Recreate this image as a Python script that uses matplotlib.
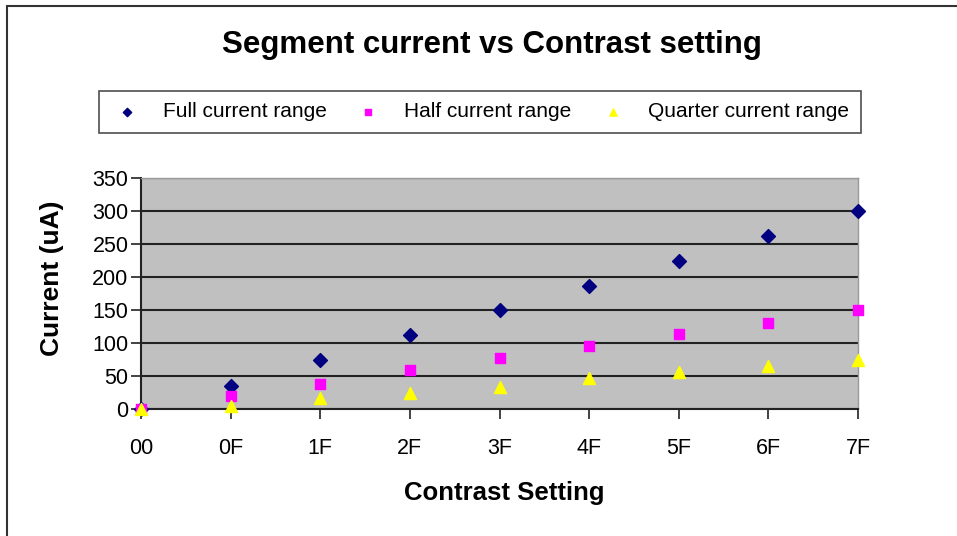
import matplotlib
matplotlib.use("Agg")
import matplotlib.pyplot as plt
from matplotlib.patches import Rectangle

# contrast settings (hex) and segment currents in uA
settings = ["00", "0F", "1F", "2F", "3F", "4F", "5F", "6F", "7F"]
full_range = [0, 35, 75, 112, 150, 187, 225, 262, 300]
half_range = [0, 19, 38, 59, 77, 95, 113, 131, 150]
quarter_range = [0, 5, 16, 25, 34, 47, 56, 65, 74]
y_ticks = [0, 50, 100, 150, 200, 250, 300, 350]

plt.rcParams['font.family'] = ['Liberation Sans', 'DejaVu Sans']

fig = plt.figure(figsize=(9.57, 5.36), dpi=100)
fig.patches.append(Rectangle((7 / 957, -0.1), 1.2, 1.1 - 6 / 536,
                             transform=fig.transFigure, fill=False,
                             edgecolor='#333333', linewidth=1.5))

ax = fig.add_axes([141 / 957, 127 / 536, 717 / 957, 231 / 536])
ax.set_facecolor('#c0c0c0')

x = list(range(len(settings)))
ax.scatter(x, full_range, marker='D', s=50, color='#000080', zorder=3,
           label='Full current range', clip_on=False)
ax.scatter(x, half_range, marker='s', s=55, color='#ff00ff', zorder=3,
           label='Half current range', clip_on=False)
ax.scatter(x, quarter_range, marker='^', s=75, color='#ffff00', zorder=3,
           label='Quarter current range', clip_on=False)

ax.set_xlim(0, len(settings) - 1)
ax.set_ylim(0, 350)
ax.set_xticks(x)
ax.set_xticklabels(settings)
ax.set_yticks(y_ticks)
ax.yaxis.grid(True, color='#222222', linewidth=1.5)
ax.set_axisbelow(True)
ax.tick_params(axis='both', labelsize=15.5, length=7, width=1.2, color='#222222',
               direction='out')
ax.tick_params(axis='x', pad=14)
ax.tick_params(axis='y', pad=2)

for side in ['top', 'right']:
    ax.spines[side].set_color('#999999')
    ax.spines[side].set_linewidth(1)
for side in ['left', 'bottom']:
    ax.spines[side].set_color('#222222')
    ax.spines[side].set_linewidth(1.5)

# axis titles placed like the Excel original
fig.text(504 / 957, 1 - 493 / 536, 'Contrast Setting', ha='center', va='center',
         fontsize=18.5, fontweight='bold')
fig.text(52 / 957, 1 - 278 / 536, 'Current (uA)', ha='center', va='center',
         rotation=90, fontsize=19, fontweight='bold')

fig.text(492 / 957, 1 - 45 / 536, 'Segment current vs Contrast setting',
         ha='center', va='center', fontsize=22.5, fontweight='bold')

leg = fig.legend(loc='center', bbox_to_anchor=(480 / 957, 1 - 112 / 536),
                 ncol=3, fontsize=15, frameon=True, fancybox=False,
                 edgecolor='#222222', markerscale=0.6, handletextpad=0.9,
                 columnspacing=1.2, borderpad=0.55, handlelength=1.6)
leg.get_frame().set_linewidth(1.2)

fig.savefig('out.png', dpi=100)
